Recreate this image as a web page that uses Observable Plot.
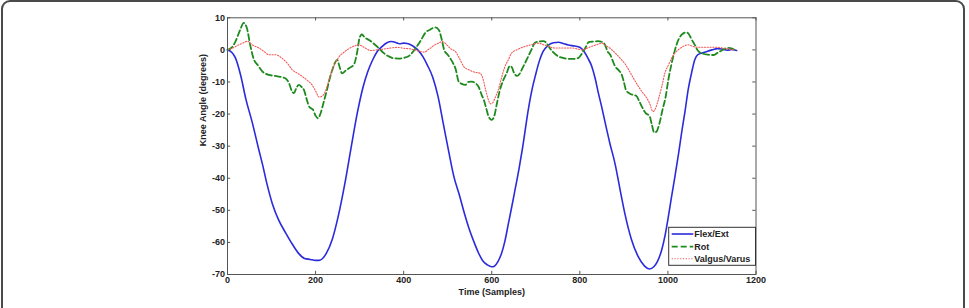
<!DOCTYPE html>
<html>
<head>
<meta charset="utf-8">
<script src="https://cdn.jsdelivr.net/npm/d3@7"></script>
<script src="https://cdn.jsdelivr.net/npm/@observablehq/plot@0.6"></script>
<style>
  html, body { margin: 0; padding: 0; background: #fff; overflow: hidden; }
  #wrap { position: relative; width: 969px; height: 308px; }
  #border { position: absolute; left: 1px; top: 0px; width: 960px; height: 340px;
            border: 2px solid #4a4a4a; border-radius: 9px; box-sizing: content-box; pointer-events: none; }
  #chart { position: absolute; left: 0; top: 0; }
</style>
</head>
<body>
<div id="wrap"><div id="chart"></div><div id="border"></div></div>
<script>
const seriesNames = ["Flex/Ext", "Rot", "Valgus/Varus"];
const xTicks = [0, 200, 400, 600, 800, 1000, 1200];
const yTicks = [-70, -60, -50, -40, -30, -20, -10, 0, 10];
const xLabel = "Time (Samples)";
const yLabel = "Knee Angle (degrees)";

const flexT = [0,10,18,30,42,56,70,80,90,102,116,132,147,162,175,188,200,208,216,224,238,252,266,280,295,308,318,330,340,352,362,372,382,390,400,408,420,432,444,454,466,478,490,502,514,526,538,548,560,570,580,590,600,606,614,622,630,638,646,653,662,670,683,692,700,708,716,728,740,752,762,774,788,800,810,818,827,835,842,850,858,868,880,892,903,917,932,947,958,968,976,986,994,1001,1008,1016,1024,1031,1039,1046,1054,1061,1068,1080,1090,1100,1112,1122,1135,1145,1156];
const flexV = [0,-0.8,-2.5,-8,-15.5,-22.5,-30.5,-36,-42,-48,-53,-57,-60.5,-63.5,-65,-65.3,-65.6,-65.6,-65,-63.5,-59,-51.5,-42,-31,-19.5,-11.5,-7,-3,-0.5,1.2,2.2,2.6,2.3,1.9,2.1,2.0,1.3,0,-2.2,-4.8,-8.5,-14.5,-23,-31.5,-39.5,-45,-51,-55.5,-60,-63.3,-65.8,-67,-67.6,-67.4,-66,-63.5,-59.5,-54,-48.5,-43.5,-37,-30.5,-18.6,-12,-7.5,-3.5,-0.6,1.4,2.2,2.4,2.0,1.5,1.2,0.8,-0.6,-2.5,-5.1,-9,-13.4,-18,-23,-29,-35.5,-44,-51.5,-59,-64.3,-67.4,-68.3,-67.6,-66,-62.3,-57.5,-52,-46,-39.4,-32.5,-25.9,-19,-12.4,-7,-3.1,-1.5,-0.9,-0.4,0,0.4,0.3,-0.1,0.1,-0.2];

const rotT = [0,10,18,28,37,44,52,60,68,79,94,108,120,132,140,146,151,156,162,168,174,180,186,194,200,205,212,218,226,232,238,244,249,254,260,268,276,287,294,300,305,312,320,330,343,355,366,377,389,400,411,420,430,440,449,460,472,480,486,492,500,510,518,525,532,540,547,555,562,570,577,582,588,593,600,606,612,618,626,634,641,646,650,657,663,668,676,683,690,698,707,717,724,729,740,751,762,774,786,797,803,808,814,820,830,842,848,857,863,869,875,880,888,895,900,905,912,920,928,935,942,950,958,963,969,974,981,988,995,1001,1008,1016,1024,1032,1042,1048,1054,1060,1069,1080,1092,1104,1114,1122,1130,1137,1146,1152];
const rotV = [0,0.8,2.6,6,8.4,6.8,1.2,-3,-4.6,-6.7,-7.8,-8.1,-8.4,-8.9,-10.5,-12.8,-13.5,-12,-10.9,-11.5,-12.6,-15.5,-17.8,-18.6,-20.5,-21.3,-19.5,-16.5,-12.4,-9,-6.2,-4,-3.1,-5,-7.3,-6.5,-5.7,-4.6,-1,3.8,4.8,3.8,3.2,2.2,0.6,-1,-2,-2.6,-2.7,-2.5,-2,-0.8,1.1,3.2,5.3,6.3,7,6.2,3.5,0,-1.5,-3.6,-6,-9.9,-10.6,-10.9,-10,-9.9,-10.3,-11.5,-14,-15.6,-18.5,-20.8,-21.8,-20.5,-16.5,-12.8,-9.5,-7.2,-5,-5.5,-7,-8.1,-7.5,-6.2,-4,-2,0,2.2,2.6,2.7,2.2,1.1,-0.8,-2,-2.5,-2.8,-2.8,-2.5,-1.5,-0.4,1,2.4,2.6,2.7,2.6,1.6,-0.5,-1.5,-3.5,-5.1,-6.3,-7.7,-10,-12.6,-13.5,-14,-14.3,-16,-18,-19.8,-20.5,-23,-25.8,-25.5,-22.8,-18.5,-14.5,-9.3,-4.5,0,3.2,4.8,5.5,4.8,3.2,1.8,-0.4,-1.2,-1.5,-1.6,-0.8,-0.2,0.4,0.6,0.4,-0.1];

const vvT = [0,12,26,36,45,56,71,82,94,109,120,128,138,147,158,170,182,192,200,208,214,222,230,238,246,253,264,276,288,298,310,325,340,356,372,386,400,416,430,446,458,469,480,488,496,507,518,526,537,548,560,574,580,586,591,597,602,608,615,622,630,638,645,658,676,690,706,718,729,742,752,766,782,794,805,816,827,838,850,862,873,884,895,903,910,917,925,933,942,952,958,966,972,978,986,993,1002,1010,1016,1025,1035,1046,1054,1061,1072,1084,1100,1114,1126,1137,1145,1152];
const vvV = [0,0.6,1.6,2.2,2.7,1.6,0.6,-0.4,-1.5,-1.5,-2.2,-3.1,-4.5,-6.2,-7.2,-8.3,-9.6,-10.9,-12.8,-14.7,-14.5,-13,-9.5,-6.2,-3.8,-2.2,-0.8,0.4,1.2,1.6,0.8,-0.2,0,0.3,0.6,0.8,0.5,0.3,-0.2,-0.7,0.3,1.4,2.2,2.6,1.8,0.3,-0.6,-2.5,-5.3,-6.2,-6.9,-7.3,-9,-12.4,-15,-16.8,-16.5,-14.8,-12.4,-8.8,-5.2,-3,-1,0.1,1.1,1.6,2.1,1.6,1.1,0.6,0.6,0.6,0.6,0.3,0,0.5,1.1,1.6,2.1,1.1,0,-1.5,-3.1,-4.4,-6,-7.7,-9.6,-11.4,-13.2,-15,-16.5,-19.2,-18.2,-15.6,-11.5,-7.3,-4.5,-2.2,-1,0.2,1.1,1.6,1.2,0.9,0.8,0.8,0.8,0.8,0.5,0.3,0.1,-0.1];

const colors = ["#2b2bdc", "#1e8a1e", "#f05a5a"];
const dashes = ["none", "6,3", "1.2,1.6"];
const widths = [1.6, 1.8, 1.1];

const toRows = (T, V) => T.map((t, i) => ({t, v: V[i]}));
const series = [toRows(flexT, flexV), toRows(rotT, rotV), toRows(vvT, vvV)];

const W = 969, H = 308;
const mL = 227, mR = 213.5, mT = 17.3, mB = 34;
const frameW = W - mL - mR, frameH = H - mT - mB;
const tickLen = 3.2;
const fs = 9;

const lineMarks = series.map((rows, i) => Plot.line(rows, {
  x: "t", y: "v", stroke: colors[i], strokeWidth: widths[i],
  strokeDasharray: dashes[i] === "none" ? undefined : dashes[i], curve: "monotone-x"
}));

const plot = Plot.plot({
  width: W, height: H,
  marginLeft: mL, marginRight: mR, marginTop: mT, marginBottom: mB,
  style: {fontFamily: "'Liberation Sans', Arial, sans-serif", fontWeight: "bold", fontSize: fs + "px", color: "#222", background: "transparent"},
  x: {domain: [0, 1200]},
  y: {domain: [-70, 10]},
  marks: [
    Plot.tickX(xTicks, {x: d => d, insetTop: frameH - tickLen, stroke: "#555"}),
    Plot.tickX(xTicks, {x: d => d, insetBottom: frameH - tickLen, stroke: "#555"}),
    Plot.tickY(yTicks, {y: d => d, insetRight: frameW - tickLen, stroke: "#555"}),
    Plot.tickY(yTicks, {y: d => d, insetLeft: frameW - tickLen, stroke: "#555"}),
    ...lineMarks,
    Plot.frame({stroke: "#555", strokeWidth: 1}),
    Plot.axisX({ticks: xTicks, tickSize: 0, tickPadding: 2, label: null, tickFormat: d => String(d)}),
    Plot.axisY({ticks: yTicks, tickSize: 0, tickPadding: 2.5, label: null, tickFormat: d => String(d)}),
    Plot.text([xLabel], {text: d => d, frameAnchor: "bottom", dy: 18, lineAnchor: "middle", fontWeight: "bold", fontSize: fs}),
    Plot.text([yLabel], {text: d => d, frameAnchor: "left", dx: -24, rotate: -90, lineAnchor: "middle", fontWeight: "bold", fontSize: fs})
  ]
});

document.getElementById("chart").appendChild(plot);

// Legend inside the axes, bottom-right
const svg = d3.select(plot);
const xr = W - mR, yb = H - mB;
const boxW = 86.8, boxH = 38;
const boxX = xr - boxW, boxY = yb - 46.7;
const g = svg.append("g").attr("text-anchor", "start");
g.append("rect").attr("x", boxX).attr("y", boxY).attr("width", boxW).attr("height", boxH)
  .attr("fill", "#fff").attr("stroke", "#333").attr("stroke-width", 1);
const rowY = [6.7, 19.4, 31.4];
seriesNames.forEach((name, i) => {
  const y = boxY + rowY[i];
  g.append("line").attr("x1", boxX + 3).attr("x2", boxX + 24.6).attr("y1", y).attr("y2", y)
    .attr("stroke", colors[i]).attr("stroke-width", widths[i])
    .attr("stroke-dasharray", dashes[i]);
  g.append("text").attr("x", boxX + 25.6).attr("y", y).attr("dy", "0.35em")
    .attr("text-anchor", "start")
    .attr("font-size", fs).attr("font-weight", "bold").attr("fill", "#222")
    .text(name);
});
</script>
</body>
</html>
